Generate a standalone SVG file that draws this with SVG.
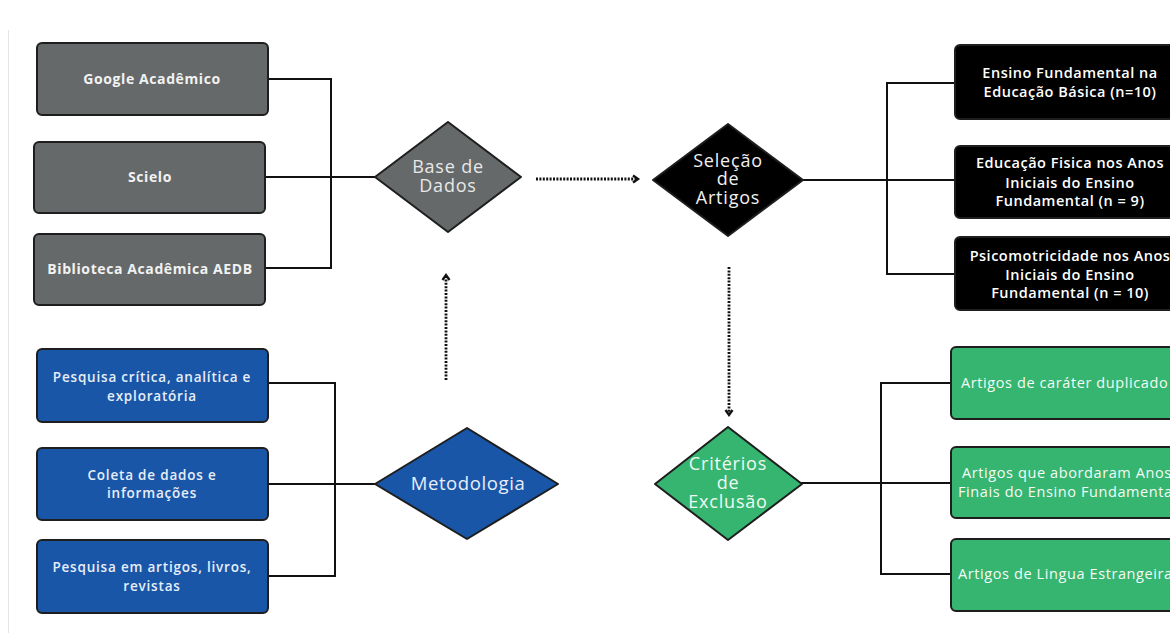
<svg xmlns="http://www.w3.org/2000/svg" width="1170" height="633" viewBox="0 0 1170 633">
<defs>
<style>
.box{stroke:#1e1e1e;stroke-width:2}
.gray{fill:#656969}
.blue{fill:#1a56a8}
.black{fill:#000}
.green{fill:#36b570}
.t{font-family:"Open Sans","Liberation Sans",sans-serif;text-anchor:middle}
.bt{font-size:14px;font-weight:700;fill:#f2f2f2;letter-spacing:0.6px}
.blt{font-size:13.5px;font-weight:600;fill:#e6eef8;letter-spacing:0.8px}
.kt{font-size:14.5px;font-weight:600;fill:#fff;letter-spacing:0.5px}
.gt{font-size:14.5px;font-weight:500;fill:#f4fbf6;letter-spacing:0.6px;text-anchor:start}
.dt{font-size:18px;font-weight:400;letter-spacing:0.8px}
.conn{fill:none;stroke:#111;stroke-width:2}
.dot{fill:none;stroke:#111;stroke-width:2.8;stroke-dasharray:2 1.4}
</style>
<marker id="chev" viewBox="0 0 10 10" refX="6" refY="5" markerWidth="10" markerHeight="10" markerUnits="userSpaceOnUse" orient="auto">
<path d="M2,1.5 L7,5 L2,8.5" fill="none" stroke="#111" stroke-width="2.4"/>
</marker>
</defs>
<rect width="1170" height="633" fill="#fff"/>
<line x1="8.5" y1="30" x2="8.5" y2="633" stroke="#e4e4e4" stroke-width="1"/>

<g id="connectors">
<polyline class="conn" points="268,79 331,79 331,268 265,268"/>
<line class="conn" x1="265" y1="177" x2="375" y2="177"/>
<polyline class="conn" points="268,383 335,383 335,576 268,576"/>
<line class="conn" x1="268" y1="484" x2="375" y2="484"/>
<polyline class="conn" points="955,83 887,83 887,274 955,274"/>
<line class="conn" x1="802" y1="180" x2="955" y2="180"/>
<polyline class="conn" points="951,383 881,383 881,574 951,574"/>
<line class="conn" x1="801" y1="483" x2="951" y2="483"/>
<line class="dot" x1="536" y1="179" x2="637" y2="179" marker-end="url(#chev)"/>
<line class="dot" x1="446" y1="380" x2="446" y2="276" marker-end="url(#chev)"/>
<line class="dot" x1="729" y1="267" x2="729" y2="414" marker-end="url(#chev)"/>
</g>

<g id="google">
<rect class="box gray" x="37" y="43" width="231" height="72" rx="5"/>
<text class="t bt" x="152" y="84">Google Acadêmico</text>
</g>
<g id="scielo">
<rect class="box gray" x="34" y="142" width="231" height="71" rx="5"/>
<text class="t bt" x="150" y="182">Scielo</text>
</g>
<g id="biblioteca">
<rect class="box gray" x="34" y="234" width="231" height="71" rx="5"/>
<text class="t bt" x="150" y="274">Biblioteca Acadêmica AEDB</text>
</g>
<g id="base-dados">
<path class="box gray" d="M448,122 L521,177 L448,232 L375,177 Z" stroke-linejoin="round"/>
<text class="t dt" fill="#e8e8e8" x="448" y="173">Base de</text>
<text class="t dt" fill="#e8e8e8" x="448" y="192">Dados</text>
</g>

<g id="pesquisa-critica">
<rect class="box blue" x="37" y="349" width="231" height="73" rx="5"/>
<text class="t blt" x="152" y="382">Pesquisa crítica, analítica e</text>
<text class="t blt" x="152" y="401">exploratória</text>
</g>
<g id="coleta">
<rect class="box blue" x="37" y="448" width="231" height="72" rx="5"/>
<text class="t blt" x="152" y="480">Coleta de dados e</text>
<text class="t blt" x="152" y="498">informações</text>
</g>
<g id="pesquisa-artigos">
<rect class="box blue" x="37" y="540" width="231" height="73" rx="5"/>
<text class="t blt" x="152" y="572">Pesquisa em artigos, livros,</text>
<text class="t blt" x="152" y="591">revistas</text>
</g>
<g id="metodologia">
<path class="box blue" d="M467,428 L558,484 L467,539 L375,484 Z" stroke-linejoin="round"/>
<text class="t" x="468" y="490" font-size="18.5" font-weight="500" letter-spacing="0.6" fill="#e8eef8">Metodologia</text>
</g>

<g id="selecao">
<path class="box black" d="M728,124 L803,180 L728,236 L653,180 Z" stroke-linejoin="round"/>
<text class="t dt" fill="#f0f0f0" x="728" y="167">Seleção</text>
<text class="t dt" fill="#f0f0f0" x="728" y="185">de</text>
<text class="t dt" fill="#f0f0f0" x="728" y="204">Artigos</text>
</g>
<g id="ensino-fundamental">
<rect class="box black" x="955" y="45" width="232" height="74" rx="5"/>
<text class="t kt" x="1070" y="78">Ensino Fundamental na</text>
<text class="t kt" x="1070" y="97">Educação Básica (n=10)</text>
</g>
<g id="educacao-fisica">
<rect class="box black" x="955" y="146" width="232" height="72" rx="5"/>
<text class="t kt" x="1070" y="168">Educação Fisica nos Anos</text>
<text class="t kt" x="1070" y="188">Iniciais do Ensino</text>
<text class="t kt" x="1070" y="206">Fundamental (n = 9)</text>
</g>
<g id="psicomotricidade">
<rect class="box black" x="955" y="237" width="232" height="73" rx="5"/>
<text class="t kt" x="1070" y="261">Psicomotricidade nos Anos</text>
<text class="t kt" x="1070" y="280">Iniciais do Ensino</text>
<text class="t kt" x="1070" y="298">Fundamental (n = 10)</text>
</g>

<g id="criterios">
<path class="box green" d="M728,427 L802,484 L728,540 L655,484 Z" stroke-linejoin="round"/>
<text class="t dt" fill="#eefaf2" x="728" y="470">Critérios</text>
<text class="t dt" fill="#eefaf2" x="728" y="489">de</text>
<text class="t dt" fill="#eefaf2" x="728" y="508">Exclusão</text>
</g>
<g id="duplicado">
<rect class="box green" x="951" y="347" width="236" height="72" rx="5"/>
<text class="t gt" x="961" y="388">Artigos de caráter duplicado</text>
</g>
<g id="anos-finais">
<rect class="box green" x="951" y="447" width="236" height="71" rx="5"/>
<text class="t gt" x="962" y="478">Artigos que abordaram Anos</text>
<text class="t gt" x="958" y="497">Finais do Ensino Fundamental</text>
</g>
<g id="lingua">
<rect class="box green" x="951" y="539" width="236" height="72" rx="5"/>
<text class="t gt" x="958" y="579">Artigos de Lingua Estrangeira</text>
</g>
</svg>
